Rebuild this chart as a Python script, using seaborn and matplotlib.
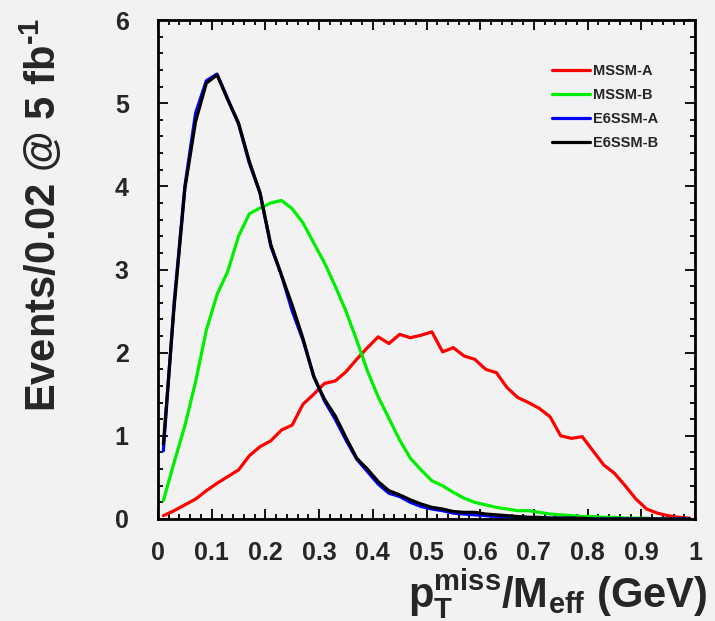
import numpy as np
import pandas as pd
import matplotlib
matplotlib.use("Agg")
import matplotlib.pyplot as plt
from matplotlib.ticker import MultipleLocator, FixedLocator
import seaborn as sns

# ---- data (bin centres, width 0.02) ----
x_centers = [round(0.01 + 0.02 * i, 2) for i in range(50)]

mssm_a = [0.04, 0.10, 0.17, 0.24, 0.34, 0.43, 0.51, 0.59, 0.76, 0.87,
          0.94, 1.07, 1.13, 1.38, 1.50, 1.63, 1.66, 1.77, 1.92, 2.06,
          2.19, 2.11, 2.22, 2.18, 2.21, 2.25, 2.01, 2.06, 1.96, 1.92,
          1.80, 1.76, 1.58, 1.46, 1.40, 1.33, 1.23, 1.00, 0.97, 0.99,
          0.82, 0.65, 0.55, 0.40, 0.24, 0.12, 0.07, 0.04, 0.02, 0.01]

mssm_b = [0.22, 0.68, 1.12, 1.65, 2.27, 2.70, 2.98, 3.40, 3.67, 3.74,
          3.80, 3.83, 3.73, 3.56, 3.32, 3.08, 2.80, 2.50, 2.15, 1.78,
          1.47, 1.21, 0.95, 0.73, 0.59, 0.46, 0.40, 0.32, 0.25, 0.20,
          0.17, 0.14, 0.12, 0.10, 0.10, 0.08, 0.06, 0.05, 0.04, 0.03,
          0.03, 0.02, 0.02, 0.01, 0.01, 0.01, 0.00, 0.00, 0.00, 0.00]

e6ssm_a = [0.82, 2.60, 4.00, 4.88, 5.27, 5.35, 5.05, 4.75, 4.28, 3.92,
           3.28, 2.93, 2.50, 2.15, 1.72, 1.42, 1.20, 0.95, 0.72, 0.57,
           0.42, 0.31, 0.27, 0.20, 0.15, 0.12, 0.10, 0.07, 0.06, 0.05,
           0.04, 0.03, 0.03, 0.02, 0.02, 0.01, 0.01, 0.01, 0.01, 0.00,
           0.00, 0.00, 0.00, 0.00, 0.00, 0.00, 0.00, 0.00, 0.00, 0.00]

e6ssm_b = [0.90, 2.55, 3.97, 4.78, 5.24, 5.34, 5.04, 4.76, 4.30, 3.92,
           3.30, 2.93, 2.57, 2.17, 1.71, 1.44, 1.24, 0.98, 0.73, 0.60,
           0.45, 0.34, 0.29, 0.23, 0.18, 0.14, 0.12, 0.09, 0.08, 0.08,
           0.06, 0.05, 0.04, 0.03, 0.02, 0.02, 0.01, 0.01, 0.01, 0.01,
           0.00, 0.00, 0.00, 0.00, 0.00, 0.00, 0.00, 0.00, 0.00, 0.00]

series_names = ["MSSM-A", "MSSM-B", "E6SSM-A", "E6SSM-B"]
series_colors = ["#ff0000", "#00ee00", "#0000ff", "#000000"]
x_tick_values = [0, 0.1, 0.2, 0.3, 0.4, 0.5, 0.6, 0.7, 0.8, 0.9, 1.0]
x_tick_labels = ["0", "0.1", "0.2", "0.3", "0.4", "0.5", "0.6", "0.7", "0.8", "0.9", "1"]
y_tick_values = [0, 1, 2, 3, 4, 5, 6]
y_tick_labels = ["0", "1", "2", "3", "4", "5", "6"]

df = pd.concat([
    pd.DataFrame({"x": x_centers, "y": vals, "model": name})
    for name, vals in zip(series_names, [mssm_a, mssm_b, e6ssm_a, e6ssm_b])
], ignore_index=True)

# ---- style ----
sns.set_style("ticks")
bg = "#f2f2f2"
plt.rcParams["font.family"] = ["Liberation Sans", "DejaVu Sans"]
plt.rcParams["font.weight"] = "bold"
plt.rcParams["axes.labelweight"] = "bold"
plt.rcParams["mathtext.default"] = "regular"

fig = plt.figure(figsize=(7.15, 6.21), dpi=100, facecolor=bg)
ax = fig.add_axes([158 / 715, 1 - 519 / 621, (695 - 158) / 715, (519 - 20) / 621])
ax.set_facecolor(bg)

sns.lineplot(data=df, x="x", y="y", hue="model", hue_order=series_names,
             palette=dict(zip(series_names, series_colors)), linewidth=2.3,
             ax=ax, legend=True, sort=True, estimator=None)

ax.set_xlim(0, 1)
ax.set_ylim(0, 6)
ax.xaxis.set_major_locator(FixedLocator(x_tick_values))
ax.set_xticklabels(x_tick_labels)
ax.yaxis.set_major_locator(FixedLocator(y_tick_values))
ax.set_yticklabels(y_tick_labels)
ax.xaxis.set_minor_locator(MultipleLocator(0.02))
ax.yaxis.set_minor_locator(MultipleLocator(0.2))
ax.tick_params(which="both", direction="in", top=True, right=True,
               width=1.3, color="black")
ax.tick_params(which="major", length=7.5)
ax.tick_params(which="minor", length=3.8)
ax.tick_params(axis="x", which="major", pad=16, labelsize=18)
ax.tick_params(axis="y", which="major", pad=21, labelsize=18)
for t in ax.get_xticklabels() + ax.get_yticklabels():
    t.set_fontweight("bold")
for sp in ax.spines.values():
    sp.set_linewidth(2.0)
    sp.set_color("black")
    sp.set_visible(True)

ax.set_ylabel("Events/0.02 @ 5 fb$^{\u2010 1}$", fontsize=30, fontweight="bold")
ax.yaxis.set_label_coords(-0.173, 0.609)
ax.set_xlabel("p$_{T}^{miss}$/M$_{eff}$ (GeV)", fontsize=30, fontweight="bold")
ax.xaxis.set_label_coords(1.022, -0.097)
ax.xaxis.label.set_horizontalalignment("right")

handles, labels = ax.get_legend_handles_labels()
leg = ax.legend(handles, labels, loc="upper left", bbox_to_anchor=(0.733, 0.911),
                frameon=False, fontsize=10.5, handlelength=2.6, handletextpad=0.25,
                labelspacing=0.68, borderpad=0, borderaxespad=0)
for t in leg.get_texts():
    t.set_fontweight("bold")
for h in leg.get_lines():
    h.set_linewidth(2.3)

fig.savefig("out.png", dpi=100, facecolor=bg)
